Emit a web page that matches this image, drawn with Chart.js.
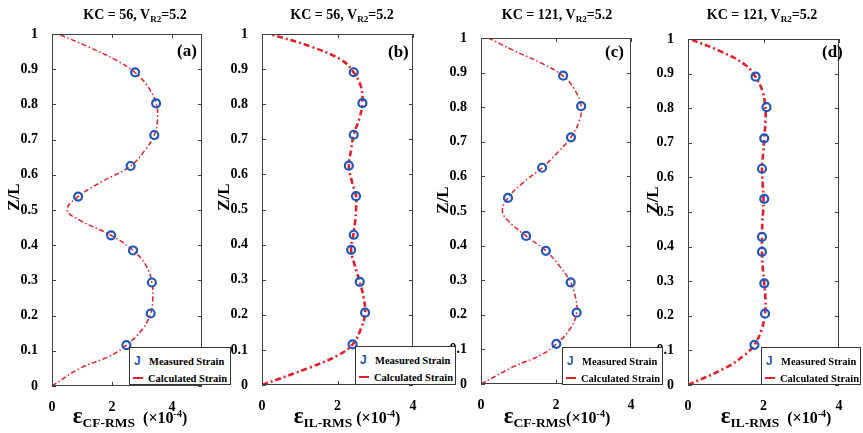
<!DOCTYPE html>
<html>
<head>
<meta charset="utf-8">
<script src="https://cdn.jsdelivr.net/npm/chart.js@4.4.1/dist/chart.umd.min.js"></script>
<style>
  body { margin: 0; background: #fff; }
  #wrap { position: relative; width: 863px; height: 433px; overflow: hidden; font-family: "Liberation Serif", "Times New Roman", serif; }
  canvas { position: absolute; left: 0; top: 0; }
  .ttl { position: absolute; transform: translate(-50%, -50%); font-weight: bold; font-size: 14px; white-space: nowrap; }
  .ttl sub { font-size: 9px; vertical-align: -3px; }
  .yl { position: absolute; transform: translate(-50%, -50%) rotate(-90deg); font-weight: bold; font-size: 17px; white-space: nowrap; }
  .xl { position: absolute; transform: translate(-50%, -50%); font-size: 16px; font-weight: bold; white-space: nowrap; }
  .xl .eps { font-size: 23px; }
  .xl .sb { font-size: 13.5px; vertical-align: -4px; }
  .xl sup { font-size: 10px; vertical-align: 6px; }
  .pl { position: absolute; transform: translateY(-50%); font-weight: bold; font-size: 17px; }
  .lg { position: absolute; background: #fff; border: 1px solid #333; box-sizing: border-box; font-weight: bold; font-size: 10.5px; }
  .lg span { position: absolute; white-space: nowrap; transform: translateY(-50%); }
  .lg .mk { font-family: "Liberation Sans", sans-serif; font-weight: bold; font-size: 12px; color: #2456b8; }
  .lg .ln { position: absolute; height: 2px; width: 10px; background: #e0202a; }
</style>
</head>
<body>
<div id="wrap">
  <canvas id="cA" width="863" height="433"></canvas>
  <canvas id="cB" width="863" height="433"></canvas>
  <canvas id="cC" width="863" height="433"></canvas>
  <canvas id="cD" width="863" height="433"></canvas>

  <div class="ttl" style="left:135px;top:15px">KC = 56, V<sub>R2</sub>=5.2</div>
  <div class="ttl" style="left:342px;top:15px">KC = 56, V<sub>R2</sub>=5.2</div>
  <div class="ttl" style="left:557px;top:15px">KC = 121, V<sub>R2</sub>=5.2</div>
  <div class="ttl" style="left:762px;top:15px">KC = 121, V<sub>R2</sub>=5.2</div>

  <div class="yl" style="left:14px;top:197px">Z/L</div>
  <div class="yl" style="left:224px;top:197px">Z/L</div>
  <div class="yl" style="left:443px;top:200px">Z/L</div>
  <div class="yl" style="left:653px;top:200px">Z/L</div>

  <div class="xl" style="left:130px;top:417px"><span class="eps">ε</span><span class="sb">CF-RMS</span>&nbsp;&nbsp;(×10<sup>-4</sup>)</div>
  <div class="xl" style="left:347px;top:417px"><span class="eps">ε</span><span class="sb">IL-RMS</span>&nbsp;(×10<sup>-4</sup>)</div>
  <div class="xl" style="left:557px;top:417px"><span class="eps">ε</span><span class="sb">CF-RMS</span>(×10<sup>-4</sup>)</div>
  <div class="xl" style="left:776px;top:417px"><span class="eps">ε</span><span class="sb">IL-RMS</span>&nbsp;&nbsp;(×10<sup>-4</sup>)</div>

  <div class="pl" style="left:177px;top:51px">(a)</div>
  <div class="pl" style="left:388px;top:52px">(b)</div>
  <div class="pl" style="left:605px;top:52px">(c)</div>
  <div class="pl" style="left:822px;top:52px">(d)</div>
</div>
<script>
// Z/L levels of the calculated curve
const curveZ = [0, 0.05, 0.085, 0.116, 0.16, 0.206, 0.25, 0.294, 0.34, 0.385, 0.428, 0.47, 0.5,
  0.538, 0.58, 0.625, 0.67, 0.713, 0.76, 0.803, 0.85, 0.89, 0.925, 0.965, 1.0];
const curveA = [0, 0.93, 1.92, 2.48, 3.0, 3.29, 3.36, 3.33, 3.15, 2.70, 1.97, 0.95, 0.5,
  0.87, 1.65, 2.62, 3.1, 3.41, 3.52, 3.47, 3.2, 2.77, 2.15, 1.17, 0.21];
const curveB = [0, 1.27, 2.02, 2.40, 2.62, 2.73, 2.69, 2.59, 2.46, 2.36, 2.42, 2.47, 2.49,
  2.49, 2.38, 2.30, 2.36, 2.43, 2.58, 2.66, 2.62, 2.43, 2.12, 1.27, 0.2];
const curveC = [0, 0.87, 1.62, 2.01, 2.38, 2.55, 2.52, 2.39, 2.1, 1.73, 1.20, 0.74, 0.57,
  0.72, 1.1, 1.63, 2.05, 2.40, 2.62, 2.67, 2.5, 2.19, 1.65, 0.85, 0.2];
const curveD = [0, 1.0, 1.48, 1.76, 1.95, 2.04, 2.05, 2.02, 1.98, 1.96, 1.96, 1.97, 1.99,
  2.00, 1.98, 1.96, 1.99, 2.02, 2.05, 2.05, 1.97, 1.79, 1.52, 0.85, 0.05];

// measured strain (gauge positions)
const gaugeZ = [0.116, 0.206, 0.294, 0.385, 0.428, 0.538, 0.625, 0.713, 0.803, 0.891];
const measA = [2.48, 3.29, 3.33, 2.70, 1.97, 0.87, 2.62, 3.41, 3.47, 2.77];
const measB = [2.40, 2.73, 2.59, 2.36, 2.43, 2.49, 2.30, 2.43, 2.66, 2.43];
const measC = [2.01, 2.55, 2.39, 1.73, 1.20, 0.72, 1.63, 2.40, 2.67, 2.19];
const measD = [1.76, 2.04, 2.02, 1.96, 1.96, 2.02, 1.96, 2.02, 2.08, 1.79];

const yTicks = [0, 0.1, 0.2, 0.3, 0.4, 0.5, 0.6, 0.7, 0.8, 0.9, 1];
const xTicks = [0, 2, 4];
const seriesNames = ['Measured Strain', 'Calculated Strain'];

const RED = '#e0202a';
const BLUE = '#2456b8';
const tickFont = { family: '"Liberation Serif", "Times New Roman", serif', size: 14, weight: 'bold' };

// inside ticks + box, MATLAB look
const frame = {
  id: 'frame',
  afterDraw(chart) {
    const { ctx, chartArea: a, scales: { x, y } } = chart;
    ctx.save();
    ctx.strokeStyle = '#404040';
    ctx.lineWidth = 1;
    ctx.strokeRect(a.left + 0.5, a.top + 0.5, a.width - 1, a.height - 1);
    ctx.beginPath();
    x.ticks.forEach(t => {
      const px = Math.round(x.getPixelForValue(t.value)) + 0.5;
      ctx.moveTo(px, a.bottom); ctx.lineTo(px, a.bottom - 4);
      ctx.moveTo(px, a.top); ctx.lineTo(px, a.top + 4);
    });
    y.ticks.forEach(t => {
      const py = Math.round(y.getPixelForValue(t.value)) + 0.5;
      ctx.moveTo(a.left, py); ctx.lineTo(a.left + 4, py);
      ctx.moveTo(a.right, py); ctx.lineTo(a.right - 4, py);
    });
    ctx.stroke();
    ctx.restore();
  }
};

function zeroPad(s) { s.paddingLeft = 0; s.paddingRight = 0; s.paddingTop = 0; s.paddingBottom = 0; }

function makePanel(id, box, curveX, measX, lw, dash) {
  new Chart(document.getElementById(id), {
    type: 'scatter',
    data: {
      datasets: [
        {
          label: seriesNames[1],
          data: curveZ.map((z, i) => ({ x: curveX[i], y: z })),
          showLine: true,
          pointRadius: 0,
          borderColor: RED,
          borderWidth: lw,
          borderDash: dash,
          tension: 0.4,
          order: 2
        },
        {
          label: seriesNames[0],
          data: gaugeZ.map((z, i) => ({ x: measX[i], y: z })),
          showLine: false,
          pointRadius: 4,
          pointBorderWidth: 2.2,
          pointBorderColor: BLUE,
          pointBackgroundColor: 'rgba(0,0,0,0)',
          order: 1
        }
      ]
    },
    options: {
      responsive: false,
      animation: false,
      devicePixelRatio: 1,
      layout: { padding: { left: box.l - 40, right: 863 - box.r, top: box.t, bottom: 433 - box.b - 25 } },
      plugins: { legend: { display: false }, tooltip: { enabled: false } },
      scales: {
        x: {
          type: 'linear', min: 0, max: box.xMax,
          grid: { display: false }, border: { display: false },
          afterBuildTicks: s => { s.ticks = xTicks.map(v => ({ value: v })); },
          afterFit: s => { s.height = 25; zeroPad(s); },
          ticks: { font: tickFont, color: '#000', padding: 5, maxRotation: 0, autoSkip: false }
        },
        y: {
          type: 'linear', min: 0, max: 1,
          grid: { display: false }, border: { display: false },
          afterBuildTicks: s => { s.ticks = yTicks.map(v => ({ value: v })); },
          afterFit: s => { s.width = 40; zeroPad(s); },
          ticks: {
            font: tickFont, color: '#000', padding: 6, autoSkip: false,
            callback: v => (v === 0 || v === 1) ? String(v) : v.toFixed(1)
          }
        }
      }
    },
    plugins: [frame]
  });
}

makePanel('cA', { l: 52, r: 202, t: 34, b: 386, xMax: 5 }, curveA, measA, 1.5, [5, 2.5, 1.5, 2.5]);
makePanel('cB', { l: 262, r: 413, t: 34, b: 385, xMax: 4 }, curveB, measB, 2.6, [6, 3, 2, 3]);
makePanel('cC', { l: 481, r: 631, t: 38, b: 384, xMax: 4 }, curveC, measC, 1.5, [5, 2.5, 1.5, 2.5]);
makePanel('cD', { l: 688, r: 839, t: 39, b: 385, xMax: 4 }, curveD, measD, 2.6, [6, 3, 2, 3]);

// legends (boxes overhang the axes like in the figure)
const legendBoxes = [
  { l: 129, t: 347, w: 102, h: 38 },
  { l: 355, t: 346, w: 101, h: 39 },
  { l: 562, t: 347, w: 101, h: 38 },
  { l: 761, t: 347, w: 100, h: 38 }
];
const wrap = document.getElementById('wrap');
legendBoxes.forEach(b => {
  const d = document.createElement('div');
  d.className = 'lg';
  d.style.left = b.l + 'px'; d.style.top = b.t + 'px';
  d.style.width = b.w + 'px'; d.style.height = b.h + 'px';
  d.innerHTML =
    '<span class="mk" style="left:4px;top:13px">J</span>' +
    '<span style="left:19px;top:13px">' + seriesNames[0] + '</span>' +
    '<div class="ln" style="left:3px;top:29px"></div>' +
    '<span style="left:18px;top:30px">' + seriesNames[1] + '</span>';
  wrap.appendChild(d);
});
</script>
</body>
</html>
